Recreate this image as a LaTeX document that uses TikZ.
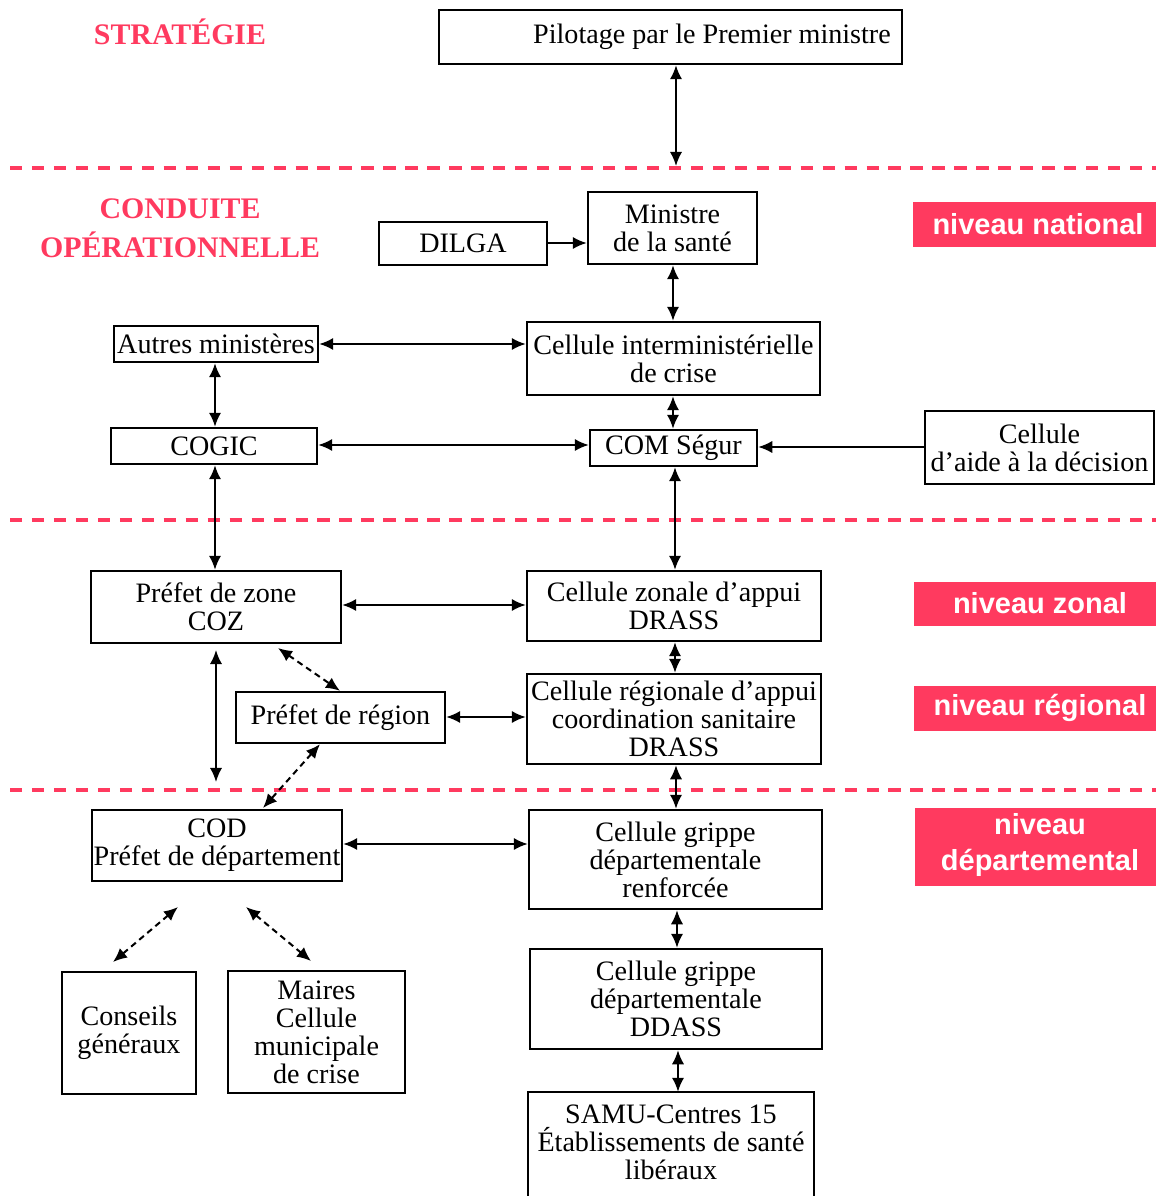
\documentclass[tikz,border=0pt]{standalone}
\usepackage{fontspec}
\setmainfont{Liberation Serif}
\newfontfamily\labelfont{Liberation Sans}
\usetikzlibrary{arrows.meta,fit}

\definecolor{accent}{RGB}{255,58,95}

\tikzset{
  x=0.02cm, y=-0.02cm,
  boxfont/.style={font=\fontsize{16}{16}\selectfont, align=center},
  box/.style={draw, line width=1.35pt, inner sep=0pt},
  band/.style={fill=accent, inner sep=0pt},
  bandtext/.style={text=white, align=center,
    font=\labelfont\bfseries\fontsize{16.5}{20}\selectfont},
  heading/.style={text=accent, align=center,
    font=\bfseries\fontsize{17}{22}\selectfont},
  tip/.style={>={Latex[length=8pt,width=7pt]}},
  link/.style={tip, <->, line width=1.15pt},
  oneway/.style={tip, ->, line width=1.15pt},
  dlink/.style={tip, <->, line width=1.15pt, dash pattern=on 3.5pt off 2.5pt},
  levelline/.style={accent, line width=1.8pt, dash pattern=on 7pt off 5.5pt},
}
% a framed box spanning two corners, with its text centred inside
\newcommand\framed[6]{%
  \node[box, fit={(#2,#3) (#4,#5)}] (#1) {};
  \node[boxfont] (#1-text) at (#1.center) {#6};}

\begin{document}
\begin{tikzpicture}
\useasboundingbox (0,0) rectangle (1156,1196);

% level separators
\draw[levelline] (10,168) -- (1156,168);
\draw[levelline] (10,520) -- (1156,520);
\draw[levelline] (10,790) -- (1156,790);

% headings
\node[heading] (hstrat) at (180,32) {STRATÉGIE};
\node[heading] (hcond) at (180,228) {CONDUITE\\OPÉRATIONNELLE};

% level bands
\node[band, fit={(913,202) (1156,247)}] (bnat) {};
\node[bandtext] (bnat-text) at (1038,224) {niveau national};
\node[band, fit={(914,582) (1156,626)}] (bzon) {};
\node[bandtext] (bzon-text) at (1040,603) {niveau zonal};
\node[band, fit={(914,686) (1156,731)}] (breg) {};
\node[bandtext] (breg-text) at (1040,708) {niveau régional};
\node[band, fit={(915,808) (1156,886)}] (bdep) {};
\node[bandtext] (bdep-text) at (1040,845) {niveau\\départemental};

% national level
\node[box, fit={(439,10) (902,64)}] (pilot) {};
\node[boxfont] (pilot-text) at (712,37) {Pilotage par le Premier ministre};
\framed{dilga}{379}{222}{547}{265}{DILGA}
\framed{minis}{588}{192}{757}{264}{Ministre\\de la santé}
\framed{autres}{114}{326}{318}{362}{Autres ministères}
\framed{cic}{527}{322}{820}{395}{Cellule interministérielle\\de crise}
\framed{cogic}{111}{428}{317}{464}{COGIC}
\framed{com}{590}{430}{757}{466}{COM Ségur}
\framed{aide}{925}{411}{1154}{484}{Cellule\\d’aide à la décision}

% zonal and regional level
\framed{pzone}{91}{571}{341}{643}{Préfet de zone\\COZ}
\framed{czone}{527}{571}{821}{641}{Cellule zonale d’appui\\DRASS}
\framed{preg}{236}{692}{445}{743}{Préfet de région}
\framed{creg}{527}{674}{821}{764}{Cellule régionale d’appui\\coordination sanitaire\\DRASS}

% departmental level
\framed{cod}{92}{810}{342}{881}{COD\\Préfet de département}
\framed{cgr}{529}{810}{822}{909}{Cellule grippe\\départementale\\renforcée}
\framed{cg}{62}{972}{196}{1094}{Conseils\\généraux}
\framed{maires}{228}{971}{405}{1093}{Maires\\Cellule\\municipale\\de crise}
\framed{cdd}{530}{949}{822}{1049}{Cellule grippe\\départementale\\DDASS}
\node[box, draw=none, fit={(529,1093) (813,1196)}] (samu) {};
\node[boxfont] (samu-text) at (671,1142) {SAMU-Centres 15\\Établissements de santé\\libéraux};
\draw[line width=1.35pt] (samu.south west) -- (samu.north west) -- (samu.north east) -- (samu.south east);

% free ends
\coordinate (sep1) at (676,166);
\coordinate (zdown) at (216,650);
\coordinate (dup) at (216,782);
\coordinate (codl) at (178,907);
\coordinate (codr) at (246,907);

% connectors
\draw[link] (pilot.south -| sep1) -- (sep1);
\draw[oneway] (dilga.east |- 0,243) -- (minis.west |- 0,243);
\draw[link] (minis.south -| 673,0) -- (cic.north -| 673,0);
\draw[link] (autres.east |- 0,344) -- (cic.west |- 0,344);
\draw[link] (autres.south -| 215,0) -- (cogic.north -| 215,0);
\draw[link] (cic.south -| 673,0) -- (com.north -| 673,0);
\draw[link] (cogic.east |- 0,445) -- (com.west |- 0,445);
\draw[oneway] (aide.west |- 0,447) -- (com.east |- 0,447);
\draw[link] (cogic.south -| 215,0) -- (pzone.north -| 215,0);
\draw[link] (com.south -| 675,0) -- (czone.north -| 675,0);
\draw[link] (pzone.east |- 0,605) -- (czone.west |- 0,605);
\draw[link] (czone.south -| 675,0) -- (creg.north -| 675,0);
\draw[link] (preg.east |- 0,717) -- (creg.west |- 0,717);
\draw[dlink] (278,648) -- (preg.north -| 340,0);
\draw[link] (zdown) -- (dup);
\draw[dlink] (preg.south -| 320,0) -- (263,808);
\draw[link] (creg.south -| 676,0) -- (cgr.north -| 676,0);
\draw[link] (cod.east |- 0,844) -- (cgr.west |- 0,844);
\draw[dlink] (codl) -- (113,962);
\draw[dlink] (codr) -- (311,961);
\draw[link] (cgr.south -| 677,0) -- (cdd.north -| 677,0);
\draw[link] (cdd.south -| 678,0) -- (samu.north -| 678,0);
\end{tikzpicture}
\end{document}
